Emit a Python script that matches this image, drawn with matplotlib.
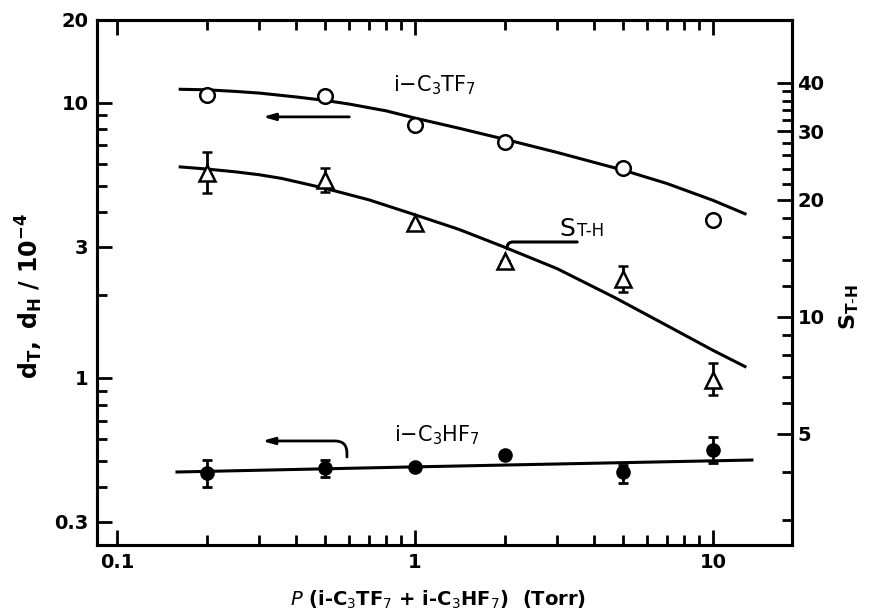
import numpy as np
import matplotlib
matplotlib.use("Agg")
import matplotlib.pyplot as plt
from matplotlib.ticker import FixedLocator, NullFormatter, FixedFormatter

# ---------------- data ----------------
pressure = [0.2, 0.5, 1, 2, 5, 10]

# i-C3TF7 (open circles, left axis)
d_T = [10.7, 10.6, 8.3, 7.2, 5.8, 3.75]

# S_T-H (open triangles, right axis)
s_TH = [23.5, 22.5, 17.4, 13.9, 12.5, 6.9]
s_TH_lo = [20.8, 20.9, 17.4, 13.9, 11.6, 6.3]
s_TH_hi = [26.6, 24.2, 17.4, 13.9, 13.5, 7.6]

# i-C3HF7 (filled circles, left axis)
d_H = [0.452, 0.470, 0.475, 0.525, 0.455, 0.547]
d_H_lo = [0.402, 0.437, 0.475, 0.525, 0.415, 0.49]
d_H_hi = [0.503, 0.503, 0.475, 0.525, 0.483, 0.61]

# smooth curves
curve_T_x = [0.163, 0.2, 0.25, 0.3, 0.4, 0.5, 0.6, 0.8, 1.0, 1.4, 2.0, 3.0, 5.0, 7.0, 10, 12.8]
curve_T_y = [11.2, 11.15, 11.0, 10.85, 10.5, 10.2, 9.9, 9.35, 8.8, 8.09, 7.37, 6.6, 5.69, 5.09, 4.42, 3.95]

curve_S_x = [0.163, 0.2, 0.25, 0.3, 0.357, 0.5, 0.7, 1.0, 1.4, 2.0, 3.0, 4.69, 7.0, 10, 12.8]
curve_S_y = [24.3, 24.0, 23.6, 23.2, 22.7, 21.4, 20.0, 18.3, 16.8, 15.1, 13.3, 11.2, 9.5, 8.2, 7.45]

curve_H_x = [0.159, 1, 13.5]
curve_H_y = [0.455, 0.475, 0.503]

# axis ticks
x_major = [0.1, 1, 10]
x_major_labels = ["0.1", "1", "10"]
x_minor = [0.2, 0.3, 0.4, 0.5, 0.6, 0.7, 0.8, 0.9, 2, 3, 4, 5, 6, 7, 8, 9]
yl_major = [0.3, 1, 3, 10, 20]
yl_major_labels = ["0.3", "1", "3", "10", "20"]
yl_minor = [0.4, 0.5, 0.6, 0.7, 0.8, 0.9, 2, 4, 5, 6, 7, 8, 9]
yr_major = [5, 10, 20, 30, 40]
yr_major_labels = ["5", "10", "20", "30", "40"]
yr_minor = [3, 4, 6, 7, 8, 9, 12, 14, 16, 18, 22, 24, 26, 28, 32, 34, 36, 38]

# ---------------- figure ----------------
W, H = 869, 612
fig = plt.figure(figsize=(W / 100, H / 100), dpi=100)
L, R, B, T = 97, 792, 545, 20
ax = fig.add_axes([L / W, 1 - B / H, (R - L) / W, (B - T) / H])
ax2 = ax.twinx()

for a in (ax, ax2):
    a.set_xscale("log")
    a.set_yscale("log")
ax.set_xlim(0.0857, 18.4)
ax.set_ylim(0.247, 20)
ax2.set_ylim(2.59, 58)

lw = 2.2
# curves
ax.plot(curve_T_x, curve_T_y, color="black", lw=lw, zorder=2, solid_joinstyle="round")
ax.plot(curve_H_x, curve_H_y, color="black", lw=lw, zorder=2)
ax2.plot(curve_S_x, curve_S_y, color="black", lw=lw, zorder=2, solid_joinstyle="round")

# markers
ax.plot(pressure, d_T, "o", ms=10.5, mfc="white", mec="black", mew=1.8, zorder=3)

d_H_err = [np.array(d_H) - np.array(d_H_lo), np.array(d_H_hi) - np.array(d_H)]
ax.errorbar(pressure, d_H, yerr=d_H_err, fmt="o", ms=9.5, mfc="black", mec="black",
            ecolor="black", elinewidth=2, capsize=3.5, capthick=2, zorder=3)

s_err = [np.array(s_TH) - np.array(s_TH_lo), np.array(s_TH_hi) - np.array(s_TH)]
ax2.errorbar(pressure, s_TH, yerr=s_err, fmt="^", ms=11, mfc="white", mec="black", mew=1.8,
             ecolor="black", elinewidth=2, capsize=3.5, capthick=2, zorder=3)

# ticks
ax.xaxis.set_major_locator(FixedLocator(x_major))
ax.xaxis.set_major_formatter(FixedFormatter(x_major_labels))
ax.xaxis.set_minor_locator(FixedLocator(x_minor))
ax.xaxis.set_minor_formatter(NullFormatter())
ax.yaxis.set_major_locator(FixedLocator(yl_major))
ax.yaxis.set_major_formatter(FixedFormatter(yl_major_labels))
ax.yaxis.set_minor_locator(FixedLocator(yl_minor))
ax.yaxis.set_minor_formatter(NullFormatter())
ax2.yaxis.set_major_locator(FixedLocator(yr_major))
ax2.yaxis.set_major_formatter(FixedFormatter(yr_major_labels))
ax2.yaxis.set_minor_locator(FixedLocator(yr_minor))
ax2.yaxis.set_minor_formatter(NullFormatter())

ax.tick_params(which="both", direction="in", top=True, bottom=True, left=True, right=False,
               width=2, labelsize=14, pad=6)
ax.tick_params(which="major", length=11)
ax.tick_params(which="minor", length=7)
ax2.tick_params(which="both", direction="in", left=False, right=True, width=2,
                labelsize=14, pad=4)
ax2.tick_params(which="major", length=11)
ax2.tick_params(which="minor", length=7)
for lab in ax.get_xticklabels() + ax.get_yticklabels() + ax2.get_yticklabels():
    lab.set_fontweight("bold")

for a in (ax, ax2):
    for s in a.spines.values():
        s.set_linewidth(2.2)

# axis labels
fig.text(29 / W, 1 - 296 / H, r"$\mathbf{d_{T},\ d_{H}\ /\ 10^{-4}}$", rotation=90,
         ha="center", va="center", fontsize=17)
fig.text(849 / W, 1 - 307 / H, r"$\mathbf{S_{T\text{-}H}}$", rotation=90,
         ha="center", va="center", fontsize=16)
fig.text(438 / W, 1 - 600 / H,
         r"$\mathbf{\mathit{P}}$ (i-C$_3$TF$_7$ + i-C$_3$HF$_7$)  (Torr)",
         ha="center", va="center", fontsize=14, fontweight="bold")

# annotations
ax.text(1.167, 11.63, r"i$-$C$_3$TF$_7$", ha="center", va="center", fontsize=15)
ax.annotate("", xy=(0.302, 8.89), xytext=(0.615, 8.89),
            arrowprops=dict(arrowstyle="-|>,head_length=0.7,head_width=0.2", color="black", lw=2))

ax.text(1.185, 0.621, r"i$-$C$_3$HF$_7$", ha="center", va="center", fontsize=15)
ax.annotate("", xy=(0.307, 0.590), xytext=(0.591, 0.516),
            arrowprops=dict(arrowstyle="-|>,head_length=0.7,head_width=0.2", color="black", lw=2,
                            connectionstyle="angle,angleA=90,angleB=0,rad=12",
                            shrinkA=0, shrinkB=0))

ax.text(3.04, 3.28, "S", ha="left", va="baseline", fontsize=18)
ax.text(3.5, 3.28, "T-H", ha="left", va="baseline", fontsize=12)
ax.annotate("", xy=(3.50, 3.12), xytext=(2.036, 2.945),
            arrowprops=dict(arrowstyle="-", color="black", lw=2.2,
                            connectionstyle="angle,angleA=90,angleB=0,rad=6",
                            shrinkA=0, shrinkB=0))

fig.savefig("out.png", dpi=100)
